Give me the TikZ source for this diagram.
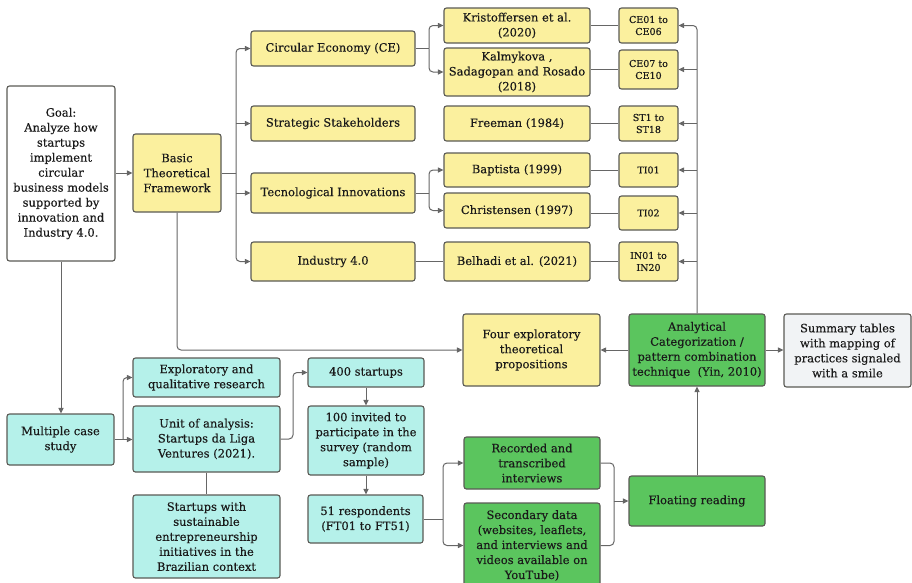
\documentclass[tikz,border=0pt]{standalone}
\usepackage{fontspec}
\setmainfont{DejaVu Serif}[FakeBold=0.3]
\usetikzlibrary{arrows.meta}
\definecolor{yel}{HTML}{FBF09E}
\definecolor{cya}{HTML}{B5F1EA}
\definecolor{grn}{HTML}{5BC55E}
\definecolor{gry}{HTML}{F1F3F5}
\definecolor{bord}{HTML}{5A5A55}
\definecolor{lin}{HTML}{666666}
\definecolor{txt}{HTML}{1A1A1A}
\begin{document}
\begin{tikzpicture}[x=1pt,y=-1pt,
 box/.style={draw=bord, line width=1.1pt, rounded corners=2.5pt, inner sep=1pt, align=center,
   font=\fontsize{11.5}{15}\selectfont, text=txt},
 yb/.style={box, fill=yel},
 cb/.style={box, fill=cya},
 gb/.style={box, fill=grn},
 wb/.style={box, fill=white},
 sb/.style={box, fill=gry},
 code/.style={yb, font=\fontsize{9.5}{12}\selectfont},
 ln/.style={draw=lin, line width=1pt, rounded corners=4pt},
 arr/.style={ln, -{Triangle[length=5.5pt,width=5pt]}}]
\useasboundingbox (0,0) rectangle (912,582);
% top-left
\node[wb, minimum width=108pt, minimum height=175pt] (goal) at (61,173.5) {Goal:\\Analyze how\\startups\\implement\\circular\\business models\\supported by\\innovation and\\Industry 4.0.};
\node[yb, minimum width=88pt, minimum height=78pt] (btf) at (177,173) {Basic\\Theoretical\\Framework};
% themes
\node[yb, minimum width=164pt, minimum height=35pt] (ce) at (333,48.5) {Circular Economy (CE)};
\node[yb, minimum width=164pt, minimum height=35pt] (ss) at (333,123.5) {Strategic Stakeholders};
\node[yb, minimum width=164pt, minimum height=40pt] (ti) at (333,193) {Tecnological Innovations};
\node[yb, minimum width=164pt, minimum height=39pt] (i40) at (333,261.5) {Industry 4.0};
% authors
\node[yb, minimum width=146pt, minimum height=35pt] (kr) at (517,25.5) {Kristoffersen et al.\\(2020)};
\node[yb, minimum width=146pt, minimum height=48pt] (ka) at (517,72) {Kalmykova ,\\Sadagopan and Rosado\\(2018)};
\node[yb, minimum width=146pt, minimum height=35pt] (fr) at (517,123.5) {Freeman (1984)};
\node[yb, minimum width=146pt, minimum height=34pt] (ba) at (517,170) {Baptista (1999)};
\node[yb, minimum width=146pt, minimum height=35pt] (ch) at (517,210.5) {Christensen (1997)};
\node[yb, minimum width=146pt, minimum height=39pt] (be) at (517,261.5) {Belhadi et al. (2021)};
% codes
\node[code, minimum width=59pt, minimum height=35pt] (c1) at (648.5,25.5) {CE01 to\\CE06};
\node[code, minimum width=59pt, minimum height=39pt] (c2) at (648.5,69.5) {CE07 to\\CE10};
\node[code, minimum width=59pt, minimum height=35pt] (st) at (648.5,123.5) {ST1 to\\ST18};
\node[code, minimum width=59pt, minimum height=34pt] (t1) at (648.5,170) {TI01};
\node[code, minimum width=59pt, minimum height=34pt] (t2) at (648.5,213) {TI02};
\node[code, minimum width=59pt, minimum height=39pt] (in) at (648.5,261.5) {IN01 to\\IN20};
% middle row
\node[yb, minimum width=137pt, minimum height=72pt] (fe) at (531.5,350) {Four exploratory\\theoretical\\propositions};
\node[gb, minimum width=136pt, minimum height=72pt] (an) at (697,350) {Analytical\\Categorization /\\pattern combination\\technique~~(Yin, 2010)};
\node[sb, minimum width=127pt, minimum height=73pt] (sm) at (847.5,350.5) {Summary tables\\with mapping of\\practices signaled\\with a smile};
% bottom
\node[cb, minimum width=107pt, minimum height=51pt] (mcs) at (60.5,439.5) {Multiple case\\study};
\node[cb, minimum width=147pt, minimum height=39pt] (eq) at (206.5,377.5) {Exploratory and\\qualitative research};
\node[cb, minimum width=147pt, minimum height=66pt] (ua) at (206.5,439) {Unit of analysis:\\Startups da Liga\\Ventures (2021).};
\node[cb, minimum width=147pt, minimum height=83pt] (sw) at (206.5,536.5) {Startups with\\sustainable\\entrepreneurship\\initiatives in the\\Brazilian context};
\node[cb, minimum width=116pt, minimum height=29pt] (s4) at (366,372.5) {400 startups};
\node[cb, minimum width=116pt, minimum height=69pt] (inv) at (366,440.5) {100 invited to\\participate in the\\survey (random\\sample)};
\node[cb, minimum width=115pt, minimum height=48pt] (resp) at (365.5,519) {51 respondents\\(FT01 to FT51)};
\node[gb, minimum width=136pt, minimum height=52pt] (rec) at (532,463) {Recorded and\\transcribed\\interviews};
\node[gb, minimum width=136pt, minimum height=85pt] (sec) at (532,545.5) {Secondary data\\(websites, leaflets,\\and interviews and\\videos available on\\YouTube)};
\node[gb, minimum width=136pt, minimum height=50pt] (fl) at (697,501) {Floating reading};
% connectors top
\coordinate (tk) at (236,173);
\draw[arr] (goal.east |- btf.west) -- (btf.west);
\draw[ln] (btf.east) -- (tk);
\draw[arr] (tk) |- (ce.west);
\draw[arr] (tk) |- (i40.west);
\draw[arr] (tk |- ss.west) -- (ss.west);
\draw[arr] (tk |- ti.west) -- (ti.west);
\coordinate (cbr) at (429,48.5);
\draw[ln] (ce.east) -- (cbr);
\draw[arr] (cbr) |- (kr.west);
\draw[arr] (cbr) |- (ka.west);
\coordinate (tbr) at (429,193);
\draw[ln] (ti.east) -- (tbr);
\draw[arr] (tbr) |- (ba.west);
\draw[arr] (tbr) |- (ch.west);
\draw[ln] (i40.east) -- (be.west);
\draw[ln] (kr.east) -- (kr.east -| c1.west);
\draw[ln] (ka.east |- c2.west) -- (c2.west);
\draw[ln] (fr.east) -- (st.west);
\draw[ln] (ba.east) -- (t1.west);
\draw[ln] (ch.east |- t2.west) -- (t2.west);
\draw[ln] (be.east) -- (in.west);
% right trunk
\draw[arr] (an.north) |- (c1.east);
\draw[arr] (an.north |- c2.east) -- (c2.east);
\draw[arr] (an.north |- st.east) -- (st.east);
\draw[arr] (an.north |- t1.east) -- (t1.east);
\draw[arr] (an.north |- t2.east) -- (t2.east);
\draw[arr] (an.north |- in.east) -- (in.east);
% middle
\draw[arr] (btf.south) |- (fe.west);
\draw[arr] (an.west) -- (fe.east);
\draw[arr] (an.east) -- (an.east -| sm.west);
% bottom
\draw[arr] (goal.south) -- (goal.south |- mcs.north);
\coordinate (mb) at (123,439.5);
\draw[arr] (mcs.east) -- (mcs.east -| ua.west);
\draw[arr] (mb) |- (eq.west);
\draw[ln] (ua.south) -- (ua.south |- sw.north);
\coordinate (ub) at (293,439);
\draw[arr] (ua.east) -- (ub) |- (s4.west);
\draw[arr] (s4.south) -- (s4.south |- inv.north);
\draw[arr] (inv.south) -- (inv.south |- resp.north);
\coordinate (rb) at (443,519);
\draw[ln] (resp.east) -- (rb);
\draw[arr] (rb) |- (rec.west);
\draw[arr] (rb) |- (sec.west);
\coordinate (fb) at (614,501);
\draw[ln] (rec.east) -| (fb);
\draw[ln] (sec.east) -| (fb);
\draw[arr] (fb) -- (fl.west);
\draw[arr] (fl.north) -- (an.south);
\end{tikzpicture}
\end{document}
